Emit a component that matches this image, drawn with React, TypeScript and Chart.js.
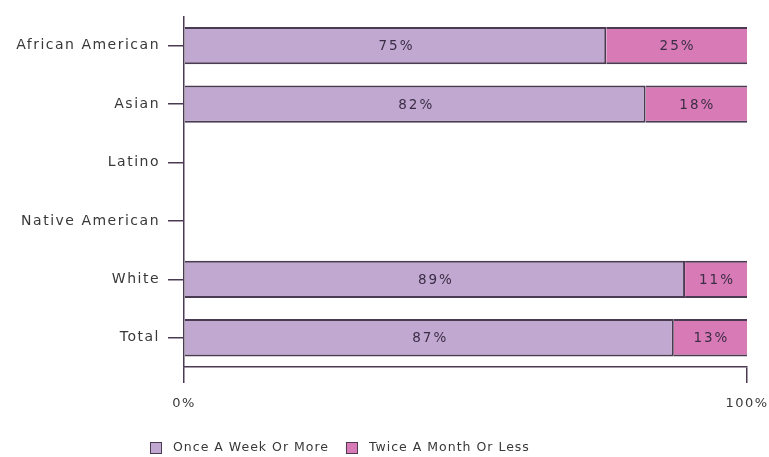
import React, { useEffect, useRef } from "react";
import { Chart, registerables } from "chart.js";

Chart.register(...registerables);

const categories = ["African American", "Asian", "Latino", "Native American", "White", "Total"];
const onceAWeek: (number | null)[] = [75, 82, null, null, 89, 87];
const twiceAMonth: (number | null)[] = [25, 18, null, null, 11, 13];
const seriesNames = ["Once A Week Or More", "Twice A Month Or Less"];
const xTicks = [0, 100];

const FONT = "'DejaVu Sans', sans-serif";
const PURPLE = "#c0a8d1";
const PINK = "#d87ab6";
const EDGE = "#4a3a52";
const TEXT = "#383838";

const spacingPlugin = {
  id: "spacing",
  beforeDraw(chart: any) {
    (chart.ctx as any).letterSpacing = "1.5px";
  },
};

const labelPlugin = {
  id: "segLabels",
  afterDatasetsDraw(chart: any) {
    const ctx = chart.ctx;
    ctx.save();
    (ctx as any).letterSpacing = "2px";
    ctx.font = `13.5px ${FONT}`;
    ctx.fillStyle = "#3b2d45";
    ctx.textAlign = "center";
    ctx.textBaseline = "middle";
    chart.data.datasets.forEach((ds: any, di: number) => {
      const meta = chart.getDatasetMeta(di);
      meta.data.forEach((el: any, i: number) => {
        const v = ds.data[i];
        if (v == null) return;
        const cx = (el.x + el.base) / 2;
        ctx.fillText(`${v}%`, cx + 1, el.y + 1);
      });
    });
    ctx.restore();
  },
};

const legendPlugin = {
  id: "customLegend",
  afterDraw(chart: any) {
    const ctx = chart.ctx;
    ctx.save();
    (ctx as any).letterSpacing = "1px";
    ctx.font = `12.5px ${FONT}`;
    ctx.textBaseline = "middle";
    ctx.textAlign = "left";
    const y = chart.height - 9;
    let x = chart.chartArea.left - 34;
    const colors = [PURPLE, PINK];
    seriesNames.forEach((name, i) => {
      ctx.fillStyle = colors[i];
      ctx.fillRect(x, y - 6, 12, 12);
      ctx.strokeStyle = EDGE;
      ctx.lineWidth = 1;
      ctx.strokeRect(x + 0.5, y - 5.5, 11, 11);
      ctx.fillStyle = TEXT;
      ctx.fillText(name, x + 23, y);
      x += 23 + ctx.measureText(name).width + 17;
    });
    ctx.restore();
  },
};

export default function App() {
  const ref = useRef<HTMLCanvasElement>(null);
  useEffect(() => {
    if (!ref.current) return;
    const chart = new Chart(ref.current, {
      type: "bar",
      data: {
        labels: categories,
        datasets: [
          {
            label: seriesNames[0],
            data: onceAWeek,
            backgroundColor: PURPLE,
            borderColor: EDGE,
            borderWidth: { top: 2, bottom: 2, left: 0, right: 2 },
            borderSkipped: false,
            barPercentage: 0.71,
            categoryPercentage: 0.9,
          },
          {
            label: seriesNames[1],
            data: twiceAMonth,
            backgroundColor: PINK,
            borderColor: EDGE,
            borderWidth: { top: 2, bottom: 2, left: 0, right: 0 },
            borderSkipped: false,
            barPercentage: 0.71,
            categoryPercentage: 0.9,
          },
        ],
      },
      options: {
        indexAxis: "y",
        responsive: false,
        animation: false,
        layout: { padding: { top: 16, right: 22, bottom: 40, left: 0 } },
        plugins: { legend: { display: false }, tooltip: { enabled: false } },
        scales: {
          x: {
            stacked: true,
            min: 0,
            max: 100,
            afterBuildTicks: (scale: any) => {
              scale.ticks = xTicks.map((v) => ({ value: v }));
            },
            afterFit: (scale: any) => {
              scale.height = 50;
              scale.paddingLeft = 0;
              scale.paddingRight = 0;
            },
            ticks: {
              callback: (v: any) => `${v}%`,
              font: { family: FONT, size: 13 },
              color: TEXT,
              padding: 13,
              maxRotation: 0,
            },
            grid: {
              drawOnChartArea: false,
              tickLength: 16,
              color: EDGE,
              lineWidth: 1.5,
            },
            border: { display: true, color: EDGE, width: 1.5 },
          },
          y: {
            stacked: true,
            afterFit: (scale: any) => {
              scale.width = 184;
            },
            ticks: {
              font: { family: FONT, size: 14 },
              color: TEXT,
              padding: 8,
            },
            grid: {
              drawOnChartArea: false,
              offset: false,
              tickLength: 16,
              color: EDGE,
              lineWidth: 1.5,
            },
            border: { display: true, color: EDGE, width: 1.5 },
          },
        },
      },
      plugins: [spacingPlugin, labelPlugin, legendPlugin],
    });
    return () => chart.destroy();
  }, []);
  return (
    <div style={{ position: "fixed", left: 0, top: 0, width: 769, height: 457, background: "#fff" }}>
      <canvas ref={ref} width={769} height={457} style={{ display: "block" }} />
    </div>
  );
}
